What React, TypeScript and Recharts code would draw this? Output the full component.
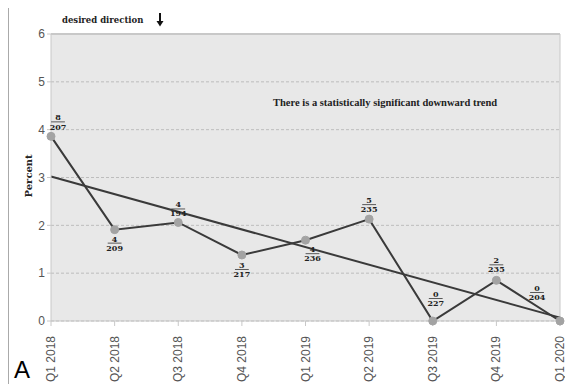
import { LineChart, Line, XAxis, YAxis, CartesianGrid, ReferenceLine } from 'recharts';

const quarters = ['Q1 2018', 'Q2 2018', 'Q3 2018', 'Q4 2018', 'Q1 2019', 'Q2 2019', 'Q3 2019', 'Q4 2019', 'Q1 2020'];
const events = [8, 4, 4, 3, 4, 5, 0, 2, 0];
const totals = [207, 209, 194, 217, 236, 235, 227, 235, 204];
const percent = [3.86, 1.91, 2.06, 1.38, 1.69, 2.13, 0, 0.85, 0];
const trend = [3.02, null, null, null, null, null, null, null, 0.07];
const yTicks = [0, 1, 2, 3, 4, 5, 6];

const data = quarters.map((q, i) => ({ q, pct: percent[i], trend: trend[i] }));

// where each fraction sits relative to its point: [dx, numerator baseline dy, denominator baseline dy]
const labelOffsets: [number, number, number][] = [
    [7, -16, -6],
    [0, 12, 21],
    [0, -15, -6],
    [0, 13, 22],
    [7, 12, 21],
    [0, -16, -7],
    [3, -24, -15],
    [0, -17, -8],
    [-23, -30, -21],
];

const serif = '"DejaVu Serif", serif';
const narrowSerif = '"Liberation Serif", serif';
const sans = '"Liberation Sans", Arial, sans-serif';

const FractionLabel = (props: any) => {
    const { x, y, index } = props;
    if (x == null || y == null || index == null) return null;
    const [dx, ny, dy] = labelOffsets[index];
    const cx = x + dx;
    const barW = String(totals[index]).length * 4.6;
    return (
        <g>
            <text x={cx} y={y + ny} textAnchor="middle" fontSize={8} fontWeight="bold" fontFamily={serif} fill="#222">
                {events[index]}
            </text>
            <line x1={cx - barW / 2} x2={cx + barW / 2} y1={y + ny + 1.5} y2={y + ny + 1.5} stroke="#333" strokeWidth={0.8} />
            <text x={cx} y={y + dy} textAnchor="middle" fontSize={8} fontWeight="bold" fontFamily={serif} fill="#222">
                {totals[index]}
            </text>
        </g>
    );
};

const QuarterTick = (props: any) => {
    const { x, y, payload } = props;
    return (
        <text x={x} y={y + 8} transform={`rotate(-90, ${x}, ${y + 8})`} textAnchor="end" dy={4} fontSize={12} fontFamily={sans} fill="#555">
            {payload.value}
        </text>
    );
};

const App = () => {
    return (
        <div style={{ position: 'relative', width: 565, height: 377, marginTop: -1, borderTop: '1px solid #aaa', borderLeft: '1px solid #aaa' }}>
            <LineChart width={564} height={376} data={data} margin={{ top: 26, right: 13, left: 0, bottom: 0 }}>
                <CartesianGrid vertical={false} fill="#e8e8e8" stroke="#bdbdbd" strokeDasharray="3 2" />
                <XAxis
                    dataKey="q"
                    height={63}
                    interval={0}
                    tick={<QuarterTick />}
                    tickLine={{ stroke: '#c8c8c8' }}
                    axisLine={{ stroke: '#c8c8c8' }}
                    tickSize={5}
                />
                <YAxis
                    width={42}
                    domain={[0, 6]}
                    ticks={yTicks}
                    tick={{ fill: '#555', fontSize: 12, fontFamily: sans }}
                    tickLine={{ stroke: '#c8c8c8' }}
                    axisLine={{ stroke: '#c8c8c8' }}
                    tickSize={4}
                    label={{ value: 'Percent', angle: -90, position: 'insideLeft', dx: 14, dy: 20, style: { fontFamily: serif, fontWeight: 'bold', fontSize: 10, fill: '#222' } }}
                />
                <ReferenceLine y={6} stroke="#c8c8c8" strokeWidth={2} />
                <ReferenceLine x="Q1 2020" stroke="#c8c8c8" strokeWidth={1} />
                <Line
                    dataKey="trend"
                    connectNulls
                    stroke="#3a3a3a"
                    strokeWidth={2}
                    dot={false}
                    isAnimationActive={false}
                />
                <Line
                    dataKey="pct"
                    stroke="#3a3a3a"
                    strokeWidth={2}
                    dot={{ r: 4, fill: '#a3a3a3', stroke: '#a3a3a3', strokeWidth: 1 }}
                    label={<FractionLabel />}
                    isAnimationActive={false}
                />
            </LineChart>
            <div style={{ position: 'absolute', zIndex: 2, left: 53, top: 7, fontFamily: serif, fontWeight: 'bold', fontSize: 8.5, color: '#222' }}>
                desired direction
            </div>
            <svg style={{ position: 'absolute', zIndex: 2, left: 147, top: 5 }} width={8} height={14}>
                <line x1={4} y1={0} x2={4} y2={10} stroke="#111" strokeWidth={2} />
                <polygon points="0.5,8 7.5,8 4,13.5" fill="#111" />
            </svg>
            <div style={{ position: 'absolute', zIndex: 2, left: 264, top: 89, fontFamily: narrowSerif, fontWeight: 'bold', fontSize: 10.5, color: '#222' }}>
                There is a statistically significant downward trend
            </div>
            <div style={{ position: 'absolute', zIndex: 2, left: 5, top: 348, fontFamily: sans, fontSize: 24, lineHeight: '28px', color: '#000' }}>A</div>
        </div>
    );
};

export default App;
